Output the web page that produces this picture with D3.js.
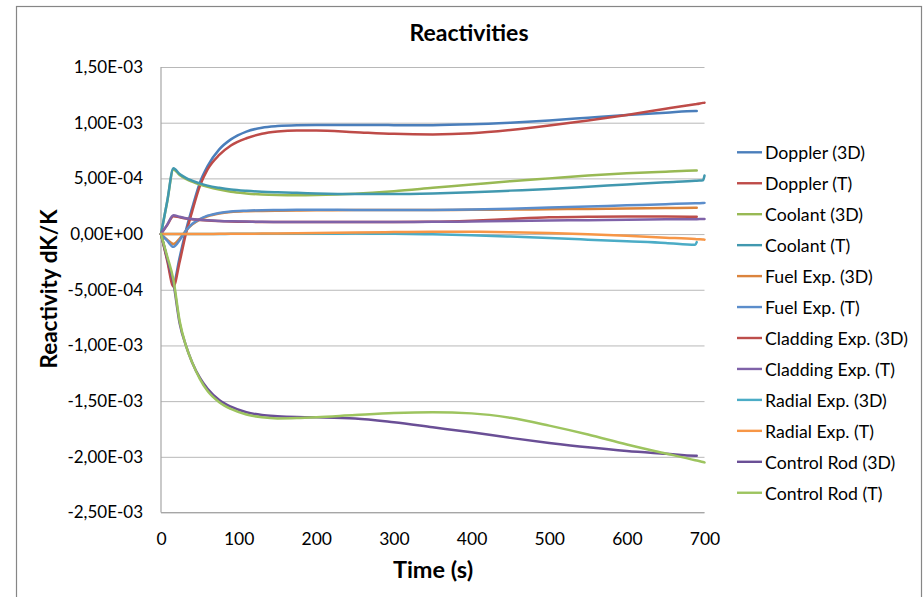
<!DOCTYPE html>
<html>
<head>
<meta charset="utf-8">
<script src="https://cdn.jsdelivr.net/npm/d3@7"></script>
<style>
  html, body { margin: 0; padding: 0; background: #ffffff; }
  svg { display: block; }
  text { font-family: Lato, "Open Sans", "Liberation Sans", sans-serif; fill: #000; }
</style>
</head>
<body>
<svg id="chart" width="924" height="597"></svg>
<script>
// Simulation time (s) shared by every reactivity series
const time = [0, 8, 16, 24, 32, 40, 50, 60, 75, 90, 110, 130, 150, 175, 200,
              250, 300, 350, 400, 450, 500, 550, 600, 650, 688, 690, 698, 700];

// Reactivity readings, stored in units of 1e-4 dK/K (null = no sample)
const UNIT = 1e-4;
const dopplerSD   = [0, -2.2, -4.4, -2.1, 0.3, 2.3, 4.6, 6.1, 7.6, 8.5, 9.2, 9.55, 9.7, 9.78, 9.8, 9.8, 9.78, 9.78, 9.85, 10.0, 10.2, 10.45, 10.7, 10.9, 11.05, 11.05, null, null];
const dopplerT    = [0, -2.4, -4.7, -2.5, 0, 2.0, 4.3, 5.8, 7.1, 7.95, 8.6, 9.0, 9.2, 9.3, 9.3, 9.15, 9.0, 8.95, 9.05, 9.35, 9.75, 10.2, 10.7, 11.25, 11.65, 11.67, 11.78, 11.8];
const coolantSD   = [0, 2.9, 5.8, 5.3, 4.95, 4.7, 4.45, 4.25, 4.0, 3.8, 3.65, 3.55, 3.5, 3.48, 3.5, 3.62, 3.85, 4.15, 4.45, 4.75, 5.0, 5.25, 5.45, 5.6, 5.7, 5.7, null, null];
const coolantT    = [0, 2.95, 5.9, 5.4, 5.05, 4.8, 4.55, 4.35, 4.15, 4.0, 3.88, 3.8, 3.75, 3.7, 3.65, 3.6, 3.6, 3.65, 3.75, 3.9, 4.05, 4.25, 4.45, 4.65, 4.78, 4.79, 4.82, 5.25];
const fuelSD      = [0, -0.5, -0.9, -0.4, 0.3, 0.85, 1.3, 1.6, 1.85, 1.98, 2.05, 2.08, 2.1, 2.12, 2.13, 2.15, 2.15, 2.16, 2.18, 2.2, 2.23, 2.26, 2.3, 2.33, 2.36, 2.36, null, null];
const fuelT       = [0, -0.6, -1.15, -0.55, 0.3, 0.9, 1.35, 1.65, 1.9, 2.03, 2.1, 2.14, 2.16, 2.18, 2.18, 2.17, 2.16, 2.17, 2.2, 2.28, 2.38, 2.48, 2.58, 2.68, 2.77, 2.77, 2.79, 2.8];
const claddingSD  = [0, 0.8, 1.6, 1.5, 1.4, 1.33, 1.27, 1.22, 1.17, 1.13, 1.1, 1.09, 1.08, 1.08, 1.08, 1.08, 1.08, 1.1, 1.2, 1.36, 1.5, 1.56, 1.58, 1.57, 1.56, 1.56, null, null];
const claddingT   = [0, 0.85, 1.7, 1.55, 1.42, 1.35, 1.28, 1.23, 1.18, 1.15, 1.12, 1.1, 1.09, 1.08, 1.08, 1.08, 1.09, 1.1, 1.13, 1.17, 1.21, 1.25, 1.29, 1.32, 1.34, 1.34, 1.35, 1.35];
const radialSD    = [0, 0, 0, 0, 0, 0, 0, 0.01, 0.01, 0.02, 0.02, 0.03, 0.03, 0.03, 0.03, 0.04, 0.03, -0.02, -0.1, -0.22, -0.35, -0.5, -0.65, -0.8, -0.97, -0.72, null, null];
const radialT     = [0, 0, 0, 0, 0, 0, 0.01, 0.01, 0.02, 0.02, 0.03, 0.04, 0.06, 0.08, 0.1, 0.14, 0.18, 0.2, 0.2, 0.17, 0.1, -0.02, -0.16, -0.32, -0.45, -0.46, -0.49, -0.5];
const controlSD   = [0, -2.2, -4.4, -8.0, -10.0, -11.5, -12.9, -13.9, -14.9, -15.5, -16.0, -16.25, -16.35, -16.42, -16.45, -16.55, -16.9, -17.35, -17.8, -18.3, -18.75, -19.15, -19.48, -19.72, -19.9, -19.9, null, null];
const controlT    = [0, -2.0, -4.1, -7.8, -10.0, -11.5, -13.0, -14.1, -15.1, -15.7, -16.2, -16.45, -16.55, -16.52, -16.45, -16.25, -16.07, -16.0, -16.1, -16.5, -17.2, -18.0, -18.9, -19.7, -20.3, -20.33, -20.47, -20.5];

const seriesNames = ["Doppler (3D)", "Doppler (T)", "Coolant (3D)", "Coolant (T)",
                     "Fuel Exp. (3D)", "Fuel Exp. (T)", "Cladding Exp. (3D)", "Cladding Exp. (T)",
                     "Radial Exp. (3D)", "Radial Exp. (T)", "Control Rod (3D)", "Control Rod (T)"];
const seriesValues = [dopplerSD, dopplerT, coolantSD, coolantT, fuelSD, fuelT,
                      claddingSD, claddingT, radialSD, radialT, controlSD, controlT];
const seriesColors = ["#4A7EBB", "#BE4B48", "#98B954", "#4198AF", "#DB843D", "#5B8DCB",
                      "#BD4E4B", "#7F62A8", "#4BACC6", "#F79646", "#6A4F96", "#9DC45F"];

const xTicks = [0, 100, 200, 300, 400, 500, 600, 700];
const yTicks = [-2.5e-3, -2.0e-3, -1.5e-3, -1.0e-3, -5.0e-4, 0, 5.0e-4, 1.0e-3, 1.5e-3];

// Layout
const W = 924, H = 597;
const plot = { left: 161, right: 704.5, top: 67, bottom: 512.5 };

const svg = d3.select("#chart");
svg.append("rect").attr("width", W).attr("height", H).attr("fill", "#fff");
// outer chart frame
svg.append("rect")
  .attr("x", 16.5).attr("y", 6.5).attr("width", 905).attr("height", 610)
  .attr("fill", "none").attr("stroke", "#868686").attr("stroke-width", 1.2);

const x = d3.scaleLinear().domain([0, 700]).range([plot.left, plot.right]);
const y = d3.scaleLinear().domain([-2.5e-3, 1.5e-3]).range([plot.bottom, plot.top]);

// Scientific labels with a decimal comma, e.g. 1,50E-03
function sciComma(v) {
  if (Math.abs(v) < 1e-12) return "0,00E+00";
  const e = Math.floor(Math.log10(Math.abs(v)) + 1e-9);
  const m = v / Math.pow(10, e);
  const sign = e < 0 ? "-" : "+";
  return m.toFixed(2).replace(".", ",") + "E" + sign + String(Math.abs(e)).padStart(2, "0");
}

// horizontal gridlines
const grid = svg.append("g").attr("transform", `translate(${plot.left},0)`)
  .call(d3.axisLeft(y).tickValues(yTicks).tickSize(-(plot.right - plot.left)).tickFormat(""));
grid.select(".domain").remove();
grid.selectAll("line").attr("stroke", "#B8B8B8").attr("stroke-width", 1);

// axis lines
svg.append("line").attr("x1", plot.left).attr("x2", plot.left)
  .attr("y1", plot.top).attr("y2", plot.bottom).attr("stroke", "#A6A6A6").attr("stroke-width", 1.2);
svg.append("line").attr("x1", plot.left).attr("x2", plot.right)
  .attr("y1", plot.bottom).attr("y2", plot.bottom).attr("stroke", "#A6A6A6").attr("stroke-width", 1.2);

// y tick labels
const yAxis = svg.append("g").attr("transform", `translate(${plot.left},0)`)
  .call(d3.axisLeft(y).tickValues(yTicks).tickSize(0).tickPadding(18).tickFormat(sciComma));
yAxis.select(".domain").remove();
yAxis.selectAll("text").attr("font-size", 17).attr("font-family", null).attr("fill", "#000");

// x tick labels
const xAxis = svg.append("g").attr("transform", `translate(0,${plot.bottom})`)
  .call(d3.axisBottom(x).tickValues(xTicks).tickSize(0).tickFormat(d3.format("d")));
xAxis.select(".domain").remove();
xAxis.selectAll("text").attr("font-size", 17.5).attr("font-family", null).attr("fill", "#000")
  .attr("y", 26.5).attr("dy", "0.35em");

// series lines
const line = d3.line()
  .defined(d => d.v !== null)
  .x(d => x(d.t))
  .y(d => y(d.v * UNIT))
  .curve(d3.curveMonotoneX);

const lines = svg.append("g");
seriesValues.forEach((vals, i) => {
  const pts = time.map((t, k) => ({ t, v: vals[k] }));
  lines.append("path")
    .datum(pts)
    .attr("d", line)
    .attr("fill", "none")
    .attr("stroke", seriesColors[i])
    .attr("stroke-width", 2.5)
    .attr("stroke-linejoin", "round")
    .attr("stroke-linecap", "round");
});

// titles
svg.append("text").attr("x", 469).attr("y", 33).attr("dy", "0.35em")
  .attr("text-anchor", "middle").attr("font-size", 23).attr("font-weight", "bold")
  .text("Reactivities");
svg.append("text").attr("transform", "translate(49,289) rotate(-90)").attr("dy", "0.35em")
  .attr("text-anchor", "middle").attr("font-size", 22.5).attr("font-weight", "bold")
  .text("Reactivity  dK/K");
svg.append("text").attr("x", 433).attr("y", 570).attr("dy", "0.35em")
  .attr("text-anchor", "middle").attr("font-size", 23.5).attr("font-weight", "bold")
  .text("Time (s)");

// legend
const legend = svg.append("g");
seriesNames.forEach((name, i) => {
  const ly = 153.3 + i * 30.95;
  legend.append("line").attr("x1", 737).attr("x2", 762).attr("y1", ly - 1).attr("y2", ly - 1)
    .attr("stroke", seriesColors[i]).attr("stroke-width", 2.4);
  legend.append("text").attr("x", 765).attr("y", ly).attr("dy", "0.35em")
    .attr("font-size", 17.7).text(name);
});
</script>
</body>
</html>
